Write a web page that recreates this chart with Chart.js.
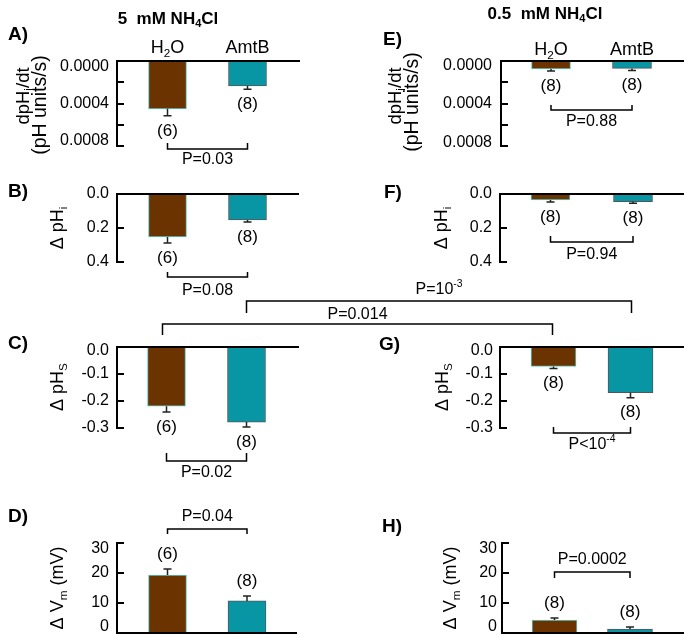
<!DOCTYPE html>
<html>
<head>
<meta charset="utf-8">
<script src="https://cdn.jsdelivr.net/npm/chart.js@4.4.1/dist/chart.umd.min.js"></script>
<style>
html, body { margin: 0; padding: 0; background: #fff; }
#wrap { position: relative; width: 697px; height: 638px; }
#wrap canvas { position: absolute; left: 0; top: 0; }
</style>
</head>
<body>
<div id="wrap">
<canvas id="cA" width="697" height="638"></canvas>
<canvas id="cB" width="697" height="638"></canvas>
<canvas id="cC" width="697" height="638"></canvas>
<canvas id="cD" width="697" height="638"></canvas>
<canvas id="cE" width="697" height="638"></canvas>
<canvas id="cF" width="697" height="638"></canvas>
<canvas id="cG" width="697" height="638"></canvas>
<canvas id="cH" width="697" height="638"></canvas>
<canvas id="overlay" width="697" height="638"></canvas>
</div>
<script>
// groups and n per group
const groups = ['H2O', 'AmtB']
const n5mM = [6, 8]
const n05mM = [8, 8]

// 5 mM NH4Cl
const dpHdt5 = [0.00045, 0.000235]
const dpHdt5Err = [0.000066, 0.00003]
const dpHi5 = [0.253, 0.153]
const dpHi5Err = [0.035, 0.012]
const dpHs5 = [-0.219, -0.278]
const dpHs5Err = [0.022, 0.018]
const dVm5 = [19.3, 10.7]
const dVm5Err = [2.0, 1.6]
const pValues5 = ['P=0.03', 'P=0.08', 'P=0.02', 'P=0.04']

// 0.5 mM NH4Cl
const dpHdt05 = [0.000075, 0.00007]
const dpHdt05Err = [0.00002, 0.00002]
const dpHi05 = [0.035, 0.045]
const dpHi05Err = [0.012, 0.01]
const dpHs05 = [-0.072, -0.169]
const dpHs05Err = [0.008, 0.019]
const dVm05 = [4.3, 1.3]
const dVm05Err = [0.7, 0.7]
const pValues05 = ['P=0.88', 'P=0.94', 'P<10^{-4}', 'P=0.0002']

// 5 mM vs 0.5 mM (delta pHs)
const pCross = ['P=0.014', 'P=10^{-3}']

// tick labels
const ticksDpHdt = [0, 0.0004, 0.0008]
const ticksDpHi = [0, 0.2, 0.4]
const ticksDpHs = [0, -0.1, -0.2, -0.3]
const ticksVm = [0, 10, 20, 30]

const FONT = "'Liberation Sans', Arial, sans-serif"
const barFill = ['#6B3300', '#0896A4']
const barEdge = ['#5ccaca', '#555555']

function rich(ctx, str, x, y, size, bold, align) {
  const parts = str.split(/(_\{[^}]*\}|\^\{[^}]*\})/).filter(s => s).map(s => {
    if (s[0] === '_') return { t: s.slice(2, -1), k: 1 }
    if (s[0] === '^') return { t: s.slice(2, -1), k: -1 }
    return { t: s, k: 0 }
  })
  const font = sz => (bold ? 'bold ' : '') + sz + 'px ' + FONT
  let w = 0
  parts.forEach(q => {
    ctx.font = font(q.k ? size * 0.65 : size)
    q.w = ctx.measureText(q.t).width
    w += q.w
  })
  let cx = align === 'right' ? x - w : align === 'left' ? x : x - w / 2
  ctx.textBaseline = 'middle'
  ctx.textAlign = 'left'
  parts.forEach(q => {
    ctx.font = font(q.k ? size * 0.65 : size)
    ctx.fillText(q.t, cx, y + (q.k === 1 ? size * 0.32 : q.k === -1 ? -size * 0.35 : 0))
    cx += q.w
  })
}

function richRot(ctx, str, x, y, size) {
  ctx.save()
  ctx.translate(x, y)
  ctx.rotate(-Math.PI / 2)
  rich(ctx, str, 0, 0, size, false, 'center')
  ctx.restore()
}

function bracket(ctx, x1, x2, y, tick, label, labelY) {
  ctx.lineWidth = 1.5
  ctx.beginPath()
  ctx.moveTo(x1, y + tick)
  ctx.lineTo(x1, y)
  ctx.lineTo(x2, y)
  ctx.lineTo(x2, y + tick)
  ctx.stroke()
  rich(ctx, label, (x1 + x2) / 2, labelY, 16, false, 'center')
}

function makePlugin(p) {
  return {
    id: 'panel' + p.letter,
    afterDraw(chart) {
      const ctx = chart.ctx
      const ys = chart.scales.y
      const bars = chart.getDatasetMeta(0).data
      const yTop = Math.min(ys.getPixelForValue(p.min), ys.getPixelForValue(p.max))
      const yBot = Math.max(ys.getPixelForValue(p.min), ys.getPixelForValue(p.max))
      const y0 = Math.round(ys.getPixelForValue(0))
      ctx.save()
      ctx.strokeStyle = '#000'
      ctx.fillStyle = '#000'
      ctx.lineCap = 'square'

      // axes
      ctx.lineWidth = 2
      ctx.beginPath()
      ctx.moveTo(p.axis, yTop)
      ctx.lineTo(p.axis, yBot)
      ctx.moveTo(p.axis, y0)
      ctx.lineTo(p.right, y0)
      ctx.stroke()

      // inward tick marks
      ys.ticks.forEach(t => {
        const py = Math.round(ys.getPixelForValue(t.value))
        ctx.beginPath()
        ctx.moveTo(p.axis, py)
        ctx.lineTo(p.axis + 6, py)
        ctx.stroke()
      })
      ctx.lineCap = 'butt'
      p.tickLabels.forEach(v => {
        let py = ys.getPixelForValue(v)
        py = Math.min(Math.max(py, yTop + p.inset[0]), yBot - p.inset[1])
        rich(ctx, p.fmt(v), p.axis - p.labelGap, py, 16, false, 'right')
      })

      // error bars and n
      bars.forEach((b, i) => {
        const v = p.values[i], e = p.errors[i]
        const base = ys.getPixelForValue(v)
        const tip = ys.getPixelForValue(v + Math.sign(v) * e)
        const dir = tip > base ? 1 : -1
        ctx.strokeStyle = '#222'
        ctx.lineWidth = 1.5
        ctx.beginPath()
        ctx.moveTo(b.x, base)
        ctx.lineTo(b.x, tip)
        ctx.moveTo(b.x - 4, tip)
        ctx.lineTo(b.x + 4, tip)
        ctx.stroke()
        ctx.fillStyle = '#000'
        rich(ctx, '(' + p.n[i] + ')', b.x, tip + dir * 15, 17, false, 'center')
        if (p.xLabelY) rich(ctx, groups[i].replace(/(\d)/g, '_{$1}'), b.x, p.xLabelY, 18, false, 'center')
      })

      ctx.strokeStyle = '#000'
      const br = p.bracket
      bracket(ctx, bars[0].x, bars[1].x, br.y, br.tick, br.label, br.labelY)

      rich(ctx, p.letter + ')', p.letterPos[0], p.letterPos[1], 19, true, 'left')
      if (p.title) rich(ctx, p.title[0], p.title[1], p.title[2], 17, true, 'center')
      p.yTitle.forEach(t => richRot(ctx, t[0], t[1], t[2], t[3] || 18))
      ctx.restore()
    }
  }
}

function panel(id, p) {
  // two categories: centres sit at 1/4 and 3/4 of the plot width
  const half = (p.c2 - p.c1) / 2
  return new Chart(document.getElementById(id), {
    type: 'bar',
    data: {
      labels: groups,
      datasets: [{
        data: p.values,
        backgroundColor: barFill,
        borderColor: barEdge,
        borderWidth: 1,
        barThickness: p.barWidth
      }]
    },
    options: {
      responsive: false,
      animation: false,
      events: [],
      layout: { padding: { left: p.c1 - half, top: p.top, right: 697 - (p.c2 + half), bottom: 638 - p.bottom } },
      scales: {
        x: { display: false, offset: true },
        y: {
          display: false,
          min: p.min,
          max: p.max,
          reverse: !!p.reverse,
          ticks: { stepSize: p.step }
        }
      },
      plugins: { legend: { display: false }, tooltip: { enabled: false } }
    },
    plugins: [makePlugin(p)]
  })
}

const f4 = v => v.toFixed(4)
const f1 = v => v.toFixed(1)
const f0 = v => String(v)

const chartA = panel('cA', {
  letter: 'A', letterPos: [8, 35], title: ['5  mM NH_{4}Cl', 168, 19],
  yTitle: [['dpH_{i}/dt', 24, 96, 18.5], ['(pH units/s)', 41, 105, 19.5]],
  values: dpHdt5, errors: dpHdt5Err, n: n5mM, xLabelY: 48,
  axis: 117, c1: 167.5, c2: 247.5, right: 299, top: 61, bottom: 146, barWidth: 38,
  min: 0, max: 0.0008, step: 0.0002, reverse: true, tickLabels: ticksDpHdt, fmt: f4, inset: [5.5, 5], labelGap: 8,
  bracket: { y: 149, tick: -6, label: pValues5[0], labelY: 160 }
})
const chartB = panel('cB', {
  letter: 'B', letterPos: [8, 192],
  yTitle: [['\u0394 pH_{i}', 58, 228]],
  values: dpHi5, errors: dpHi5Err, n: n5mM,
  axis: 117, c1: 167.5, c2: 247.5, right: 298, top: 194, bottom: 262, barWidth: 38,
  min: 0, max: 0.4, step: 0.2, reverse: true, tickLabels: ticksDpHi, fmt: f1, inset: [0, 0], labelGap: 8,
  bracket: { y: 277, tick: -5, label: pValues5[1], labelY: 291 }
})
const chartC = panel('cC', {
  letter: 'C', letterPos: [8, 344],
  yTitle: [['\u0394 pH_{S}', 58, 387]],
  values: dpHs5, errors: dpHs5Err, n: n5mM,
  axis: 117, c1: 166.5, c2: 246.5, right: 298, top: 347, bottom: 428, barWidth: 38,
  min: -0.3, max: 0, step: 0.1, tickLabels: ticksDpHs, fmt: f1, inset: [4, 0], labelGap: 8,
  bracket: { y: 461, tick: -8, label: pValues5[2], labelY: 473 }
})
const chartD = panel('cD', {
  letter: 'D', letterPos: [8, 517],
  yTitle: [['\u0394 V_{m} (mV)', 58, 588]],
  values: dVm5, errors: dVm5Err, n: n5mM,
  axis: 117, c1: 167.5, c2: 247, right: 296, top: 543, bottom: 633, barWidth: 38,
  min: 0, max: 30, step: 5, tickLabels: ticksVm, fmt: f0, inset: [6, 6], labelGap: 8,
  bracket: { y: 529, tick: 5, label: pValues5[3], labelY: 517 }
})
const chartE = panel('cE', {
  letter: 'E', letterPos: [383, 40], title: ['0.5  mM NH_{4}Cl', 545, 14],
  yTitle: [['dpH_{i}/dt', 396, 96, 18.5], ['(pH units/s)', 413, 102, 19.5]],
  values: dpHdt05, errors: dpHdt05Err, n: n05mM, xLabelY: 50,
  axis: 501, c1: 551, c2: 632, right: 683, top: 61, bottom: 146, barWidth: 39,
  min: 0, max: 0.0008, step: 0.0002, reverse: true, tickLabels: ticksDpHdt, fmt: f4, inset: [4.5, 3], labelGap: 9,
  bracket: { y: 110, tick: -5, label: pValues05[0], labelY: 122 }
})
const chartF = panel('cF', {
  letter: 'F', letterPos: [384, 193],
  yTitle: [['\u0394 pH_{i}', 442, 228]],
  values: dpHi05, errors: dpHi05Err, n: n05mM,
  axis: 500, c1: 550.5, c2: 633, right: 683, top: 194, bottom: 262, barWidth: 39,
  min: 0, max: 0.4, step: 0.2, reverse: true, tickLabels: ticksDpHi, fmt: f1, inset: [0, 0], labelGap: 8,
  bracket: { y: 242, tick: -6, label: pValues05[1], labelY: 255 }
})
const chartG = panel('cG', {
  letter: 'G', letterPos: [379, 345],
  yTitle: [['\u0394 pH_{S}', 443, 387]],
  values: dpHs05, errors: dpHs05Err, n: n05mM,
  axis: 500, c1: 553.5, c2: 630.5, right: 683, top: 347, bottom: 428, barWidth: 45,
  min: -0.3, max: 0, step: 0.1, tickLabels: ticksDpHs, fmt: f1, inset: [4, 0], labelGap: 7,
  bracket: { y: 433, tick: -6, label: pValues05[2], labelY: 445 }
})
const chartH = panel('cH', {
  letter: 'H', letterPos: [382, 527],
  yTitle: [['\u0394 V_{m} (mV)', 451, 588]],
  values: dVm05, errors: dVm05Err, n: n05mM,
  axis: 502, c1: 554.5, c2: 630, right: 683, top: 543, bottom: 633, barWidth: 45,
  min: 0, max: 30, step: 5, tickLabels: ticksVm, fmt: f0, inset: [6, 6], labelGap: 5,
  bracket: { y: 572, tick: 6, label: pValues05[3], labelY: 560 }
})

// brackets comparing 5 mM and 0.5 mM (panel C vs G)
const oc = document.getElementById('overlay').getContext('2d')
const barsC = chartC.getDatasetMeta(0).data
const barsG = chartG.getDatasetMeta(0).data
oc.strokeStyle = '#000'
oc.fillStyle = '#000'
bracket(oc, barsC[0].x - 4, barsG[0].x - 1, 324, 11, pCross[0], 315)
bracket(oc, barsC[1].x, barsG[1].x + 1, 301, 12, pCross[1], 290)
</script>
</body>
</html>
